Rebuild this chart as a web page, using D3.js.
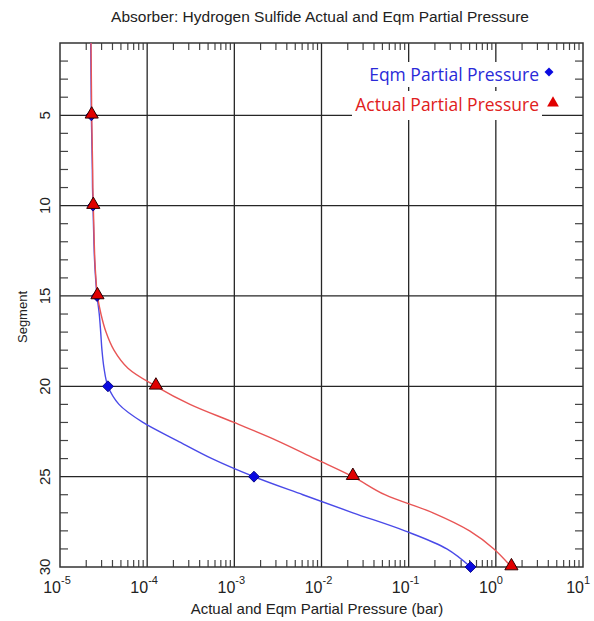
<!DOCTYPE html>
<html>
<head>
<meta charset="utf-8">
<script src="https://cdn.jsdelivr.net/npm/d3@7"></script>
<style>
  body { margin: 0; background: #fff; }
  svg { display: block; font-family: "Liberation Sans", Arial, sans-serif; }
</style>
</head>
<body>
<svg id="chart" width="594" height="621"></svg>
<script>
// segment numbers (top of column = 1)
const segments = [1, 2, 3, 4, 5, 6, 7, 8, 9, 10, 11, 12, 13, 14, 15,
                  16, 17, 18, 19, 20, 21, 22, 23, 24, 25, 26, 27, 28, 29, 30];

// partial pressures (bar)
const actualPressure = [2.27e-5, 2.28e-5, 2.29e-5, 2.30e-5, 2.31e-5, 2.33e-5, 2.35e-5, 2.37e-5, 2.38e-5, 2.41e-5,
                        2.44e-5, 2.47e-5, 2.51e-5, 2.58e-5, 2.69e-5, 2.95e-5, 3.37e-5, 4.16e-5, 6.02e-5, 1.26e-4,
                        3.10e-4, 9.9e-4, 3.08e-3, 8.4e-3, 2.29e-2, 5.33e-2, 0.19, 0.50, 0.95, 1.51];
const eqmPressure = [2.25e-5, 2.26e-5, 2.27e-5, 2.28e-5, 2.29e-5, 2.31e-5, 2.33e-5, 2.35e-5, 2.36e-5, 2.39e-5,
                     2.42e-5, 2.45e-5, 2.49e-5, 2.56e-5, 2.66e-5, 2.82e-5, 2.93e-5, 3.03e-5, 3.20e-5, 3.55e-5,
                     4.75e-5, 8.95e-5, 2.20e-4, 5.54e-4, 1.68e-3, 6.12e-3, 2.29e-2, 9.05e-2, 0.274, 0.513];

const markerSegments = [5, 10, 15, 20, 25, 30];
const xTickExponents = [-5, -4, -3, -2, -1, 0, 1];
const yTickLabels = [5, 10, 15, 20, 25, 30];

const svg = d3.select("#chart");
const plotL = 60, plotR = 583, plotT = 43, plotB = 567;

const x = d3.scaleLog().domain([1e-5, 10]).range([plotL, plotR]);
const y = d3.scaleLinear().domain([1, 30]).range([plotT, plotB]);

const gridColor = "#262626";

// title
svg.append("text")
  .attr("x", 320).attr("y", 22)
  .attr("text-anchor", "middle")
  .attr("font-size", 15.5).attr("fill", "#222")
  .text("Absorber: Hydrogen Sulfide Actual and Eqm Partial Pressure");

// grid lines
const g = svg.append("g");
g.selectAll(".vgrid")
  .data(xTickExponents.slice(1, -1))
  .join("line")
  .attr("x1", d => x(Math.pow(10, d))).attr("x2", d => x(Math.pow(10, d)))
  .attr("y1", plotT).attr("y2", plotB)
  .attr("stroke", gridColor).attr("stroke-width", 1.3);

g.selectAll(".hgrid")
  .data(yTickLabels.slice(0, -1))
  .join("line")
  .attr("x1", plotL).attr("x2", plotR)
  .attr("y1", d => y(d)).attr("y2", d => y(d))
  .attr("stroke", gridColor).attr("stroke-width", 1.3);

// minor ticks (log) top and bottom
let minorX = [];
xTickExponents.slice(0, -1).forEach(e => {
  for (let k = 2; k <= 9; k++) minorX.push(k * Math.pow(10, e));
});
g.append("g").selectAll("line").data(minorX).join("line")
  .attr("x1", d => x(d)).attr("x2", d => x(d))
  .attr("y1", plotB).attr("y2", plotB - 7)
  .attr("stroke", "#444").attr("stroke-width", 1.2);
g.append("g").selectAll("line").data(minorX).join("line")
  .attr("x1", d => x(d)).attr("x2", d => x(d))
  .attr("y1", plotT).attr("y2", plotT + 7)
  .attr("stroke", "#444").attr("stroke-width", 1.2);

// minor ticks on segment axis, left and right
const minorY = segments.filter(s => s > 1 && s < 30 && s % 5 !== 0);
g.append("g").selectAll("line").data(minorY).join("line")
  .attr("x1", plotL).attr("x2", plotL + 8)
  .attr("y1", d => y(d)).attr("y2", d => y(d))
  .attr("stroke", "#444").attr("stroke-width", 1.2);
g.append("g").selectAll("line").data(minorY).join("line")
  .attr("x1", plotR).attr("x2", plotR - 8)
  .attr("y1", d => y(d)).attr("y2", d => y(d))
  .attr("stroke", "#444").attr("stroke-width", 1.2);

// frame
svg.append("rect")
  .attr("x", plotL).attr("y", plotT)
  .attr("width", plotR - plotL).attr("height", plotB - plotT)
  .attr("fill", "none").attr("stroke", "#333").attr("stroke-width", 1.5);

// x tick labels: 10 with superscript
const xl = svg.append("g").attr("fill", "#222");
xTickExponents.forEach(e => {
  const px = x(Math.pow(10, e));
  xl.append("text")
    .attr("x", px + 1).attr("y", 593)
    .attr("text-anchor", "end").attr("font-size", 16)
    .text("10");
  xl.append("text")
    .attr("x", px + 1).attr("y", 584)
    .attr("text-anchor", "start").attr("font-size", 11)
    .text(e);
});

// y tick labels, rotated
svg.append("g").selectAll("text")
  .data(yTickLabels)
  .join("text")
  .attr("transform", d => `translate(50,${y(d)}) rotate(-90)`)
  .attr("text-anchor", "middle")
  .attr("font-size", 15).attr("fill", "#222")
  .text(d => d);

// axis titles
svg.append("text")
  .attr("x", 317).attr("y", 614)
  .attr("text-anchor", "middle")
  .attr("font-size", 15).attr("fill", "#222")
  .text("Actual and Eqm Partial Pressure (bar)");

svg.append("text")
  .attr("transform", "translate(27,317) rotate(-90)")
  .attr("text-anchor", "middle")
  .attr("font-size", 13).attr("fill", "#222")
  .text("Segment");

// lines
const eqmData = segments.map((s, i) => ({ seg: s, p: eqmPressure[i] }));
const actData = segments.map((s, i) => ({ seg: s, p: actualPressure[i] }));

const line = d3.line()
  .x(d => x(d.p))
  .y(d => y(d.seg))
  .curve(d3.curveCatmullRom);

svg.append("path")
  .datum(eqmData)
  .attr("d", line)
  .attr("fill", "none").attr("stroke", "#4a4ae8").attr("stroke-width", 1.4);

svg.append("path")
  .datum(actData)
  .attr("d", line)
  .attr("fill", "none").attr("stroke", "#e85555").attr("stroke-width", 1.4);

// markers (diamond = square turned 45 degrees)
const diamond = d3.symbol().type(d3.symbolSquare).size(60);
const triangle = d3.symbol().type(d3.symbolTriangle).size(75);

svg.append("g").selectAll("path")
  .data(eqmData.filter(d => markerSegments.includes(d.seg)))
  .join("path")
  .attr("d", diamond)
  .attr("transform", d => `translate(${x(d.p)},${y(d.seg)}) rotate(45)`)
  .attr("fill", "#0a0ae0").attr("stroke", "#00007a").attr("stroke-width", 0.8);

svg.append("g").selectAll("path")
  .data(actData.filter(d => markerSegments.includes(d.seg)))
  .join("path")
  .attr("d", triangle)
  .attr("transform", d => `translate(${x(d.p)},${y(d.seg) - 1})`)
  .attr("fill", "#e00000").attr("stroke", "#300000").attr("stroke-width", 1);

// legend
const legend = svg.append("g");
legend.append("rect").attr("x", 364).attr("y", 62).attr("width", 200).attr("height", 25).attr("fill", "#fff");
legend.append("rect").attr("x", 352).attr("y", 91).attr("width", 190).attr("height", 29).attr("fill", "#fff");

legend.append("text")
  .attr("x", 539).attr("y", 81)
  .attr("text-anchor", "end")
  .attr("font-family", "'Open Sans', sans-serif")
  .attr("font-size", 17.5).attr("fill", "#2a2ad8")
  .text("Eqm Partial Pressure");
legend.append("path")
  .attr("d", d3.symbol().type(d3.symbolSquare).size(40))
  .attr("transform", "translate(549,72) rotate(45)")
  .attr("fill", "#0a0ae0");

legend.append("text")
  .attr("x", 539).attr("y", 111)
  .attr("text-anchor", "end")
  .attr("font-family", "'Open Sans', sans-serif")
  .attr("font-size", 17.5).attr("fill", "#e02020")
  .text("Actual Partial Pressure");
legend.append("path")
  .attr("d", d3.symbol().type(d3.symbolTriangle).size(60))
  .attr("transform", "translate(553,103)")
  .attr("fill", "#e00000");
</script>
</body>
</html>
